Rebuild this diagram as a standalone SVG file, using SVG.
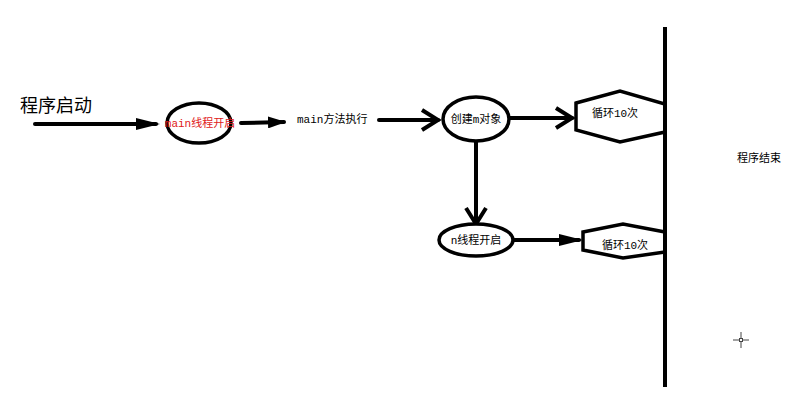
<svg xmlns="http://www.w3.org/2000/svg" width="803" height="414" viewBox="0 0 803 414">
<style>
.ln{stroke:#000;stroke-width:4;fill:none;stroke-linecap:round;}
.sh{stroke:#000;stroke-width:3.5;fill:#fff;}
.t{font-family:"Liberation Mono","Noto Sans CJK SC",monospace;font-size:11px;fill:#000;}
</style>
<defs>
<marker id="fill" markerWidth="6" markerHeight="3" refX="5" refY="1.5" orient="auto" markerUnits="strokeWidth"><path d="M0,0 L6,1.5 L0,3 Z" fill="#000"/></marker>
<marker id="fills" markerWidth="4.5" markerHeight="3" refX="4" refY="1.5" orient="auto" markerUnits="strokeWidth"><path d="M0,0 L4.5,1.5 L0,3 Z" fill="#000"/></marker>
<marker id="chev" markerWidth="6" markerHeight="6" refX="5" refY="3" orient="auto" markerUnits="strokeWidth"><path d="M1,0.5 L5,3 L1,5.5" fill="none" stroke="#000" stroke-width="1"/></marker>
</defs>
<rect width="803" height="414" fill="#fff"/>
<text x="20" y="112" style="font-family:'Liberation Sans','Noto Sans CJK SC',sans-serif;font-size:18px;fill:#000">程序启动</text>
<g id="connectors">
<line class="ln" x1="35" y1="124" x2="156" y2="124" marker-end="url(#fill)"/>
<line class="ln" x1="241" y1="123" x2="284" y2="122" marker-end="url(#fills)"/>
<line class="ln" x1="379" y1="120" x2="438" y2="120" marker-end="url(#chev)"/>
<line class="ln" x1="510" y1="118" x2="572" y2="118" marker-end="url(#chev)"/>
<line class="ln" x1="476" y1="142" x2="476" y2="224" marker-end="url(#chev)"/>
<line class="ln" x1="513" y1="240" x2="579" y2="240" marker-end="url(#fill)"/>
</g>
<g id="n1"><ellipse class="sh" cx="199" cy="123" rx="32" ry="20"/><text class="t" x="200" y="127" text-anchor="middle" style="fill:#e02020">main线程开启</text></g>
<g id="n2"><text class="t" x="297" y="123">main方法执行</text></g>
<g id="n3"><ellipse class="sh" cx="476" cy="119" rx="33" ry="22"/><text class="t" x="476" y="123" text-anchor="middle">创建m对象</text></g>
<g id="n4"><polygon class="sh" points="576,103 620,91 665,104 665,132 620,142 576,130"/><text class="t" x="615" y="117" text-anchor="middle">循环10次</text></g>
<g id="n5"><ellipse class="sh" cx="476" cy="240" rx="37" ry="16"/><text class="t" x="476" y="244" text-anchor="middle">n线程开启</text></g>
<g id="n6"><polygon class="sh" points="583,232 623,224 665,232 665,252 623,258 583,250"/><text class="t" x="625" y="249" text-anchor="middle">循环10次</text></g>
<g id="bar"><line x1="665" y1="27" x2="665" y2="387" stroke="#000" stroke-width="4"/></g>
<g id="n7"><text class="t" x="737" y="162">程序结束</text></g>
<g id="cursor" stroke="#444" stroke-width="1">
<line x1="733" y1="340" x2="749" y2="340"/><line x1="741" y1="332" x2="741" y2="348"/>
<rect x="739.5" y="338.5" width="3" height="3" fill="#fff"/>
</g>
</svg>
